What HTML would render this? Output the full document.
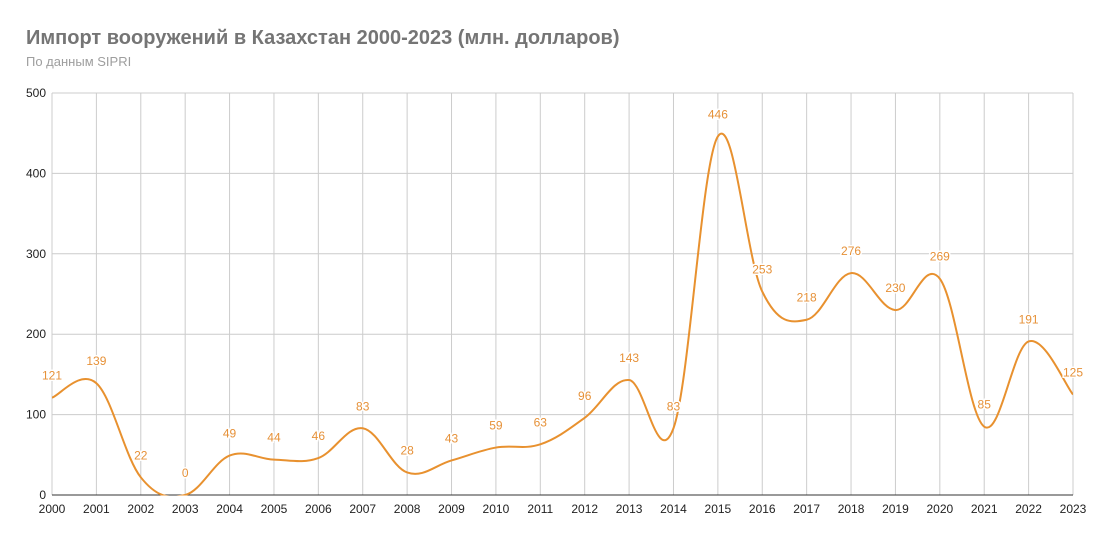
<!DOCTYPE html>
<html><head><meta charset="utf-8"><style>
body{margin:0;background:#fff;}
svg{display:block;font-family:"Liberation Sans",Arial,sans-serif;}
</style></head><body>
<svg id="s" width="1101" height="533" viewBox="0 0 1101 533">
<text x="26" y="44" font-size="20" font-weight="bold" fill="#757575">Импорт вооружений в Казахстан 2000-2023 (млн. долларов)</text>
<text x="26" y="66" font-size="13" fill="#9e9e9e">По данным SIPRI</text>
<g id="g"></g>
</svg>
<script>
const v=[121,139,22,0,49,44,46,83,28,43,59,63,96,143,83,446,253,218,276,230,269,85,191,125];
const x0=52,x1=1073,dx=(x1-x0)/23,y0=495,k=(495-93)/500;
const X=i=>x0+i*dx,Y=a=>y0-a*k;
let h='';
for(let i=1;i<=5;i++){const y=Y(i*100);h+=`<line x1="${x0}" x2="${x1}" y1="${y}" y2="${y}" stroke="#ccc"/>`;}
for(let i=0;i<24;i++){h+=`<line x1="${X(i)}" x2="${X(i)}" y1="93" y2="495" stroke="#ccc"/>`;
h+=`<text x="${X(i)}" y="513" font-size="12" fill="#222" text-anchor="middle">${2000+i}</text>`;}
for(let i=0;i<=5;i++){h+=`<text x="46" y="${Y(i*100)+4}" font-size="12" fill="#222" text-anchor="end">${i*100}</text>`;}
h+=`<line x1="${x0}" x2="${x1}" y1="495" y2="495" stroke="#333"/>`;
const P=v.map((a,i)=>[X(i),Y(a)]);
let d=`M${P[0][0]},${P[0][1]}`;
for(let i=0;i<23;i++){const p0=P[Math.max(i-1,0)],p1=P[i],p2=P[i+1],p3=P[Math.min(i+2,23)];
const t=0.18;
const c1=[p1[0]+(p2[0]-p0[0])*t,p1[1]+(p2[1]-p0[1])*t],c2=[p2[0]-(p3[0]-p1[0])*t,p2[1]-(p3[1]-p1[1])*t];
d+=`C${c1[0]},${c1[1]} ${c2[0]},${c2[1]} ${p2[0]},${p2[1]}`;}
h+=`<clipPath id="c"><rect x="${x0}" y="80" width="${x1-x0}" height="415.5"/></clipPath>`;
h+=`<path d="${d}" fill="none" stroke="#e8912f" stroke-width="2" clip-path="url(#c)"/>`;
v.forEach((a,i)=>{h+=`<text x="${X(i)}" y="${Y(a)-18}" font-size="12" fill="#e69138" text-anchor="middle" stroke="#fff" stroke-width="3" paint-order="stroke">${a}</text>`;});
document.getElementById('g').innerHTML=h;
</script>
</body></html>
